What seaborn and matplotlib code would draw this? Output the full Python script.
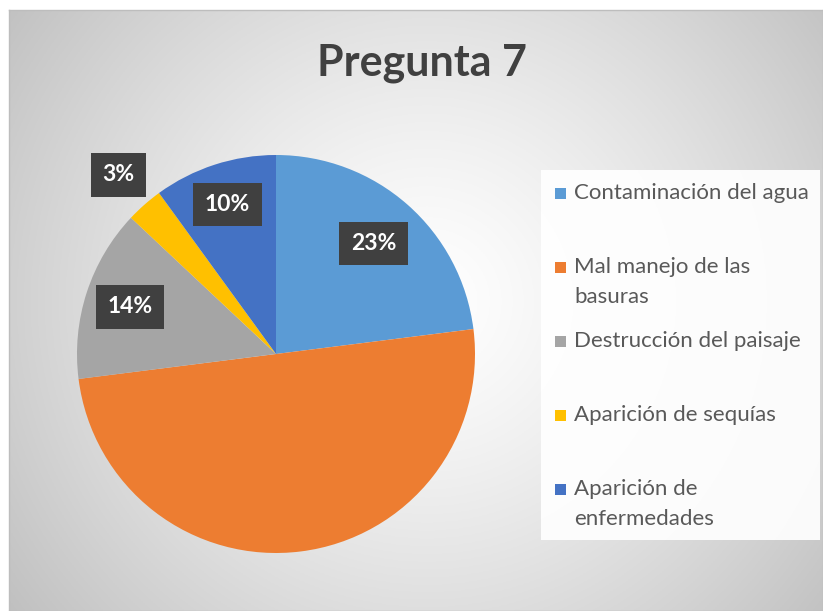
import numpy as np
import matplotlib
matplotlib.use("Agg")
import matplotlib.pyplot as plt
import seaborn as sns
from matplotlib.patches import Rectangle

# data
categories = ["Contaminación del agua", "Mal manejo de las\nbasuras",
              "Destrucción del paisaje", "Aparición de sequías",
              "Aparición de\nenfermedades"]
values = [23, 50, 14, 3, 10]
shown_labels = ["23%", "", "14%", "3%", "10%"]
title = "Pregunta 7"

sns.set_theme(style="white")
plt.rcParams['font.family'] = ['Lato', 'DejaVu Sans']

colors = sns.color_palette(["#5B9BD5", "#ED7D31", "#A5A5A5", "#FFC000", "#4472C4"])

W, H = 823, 611
fig = plt.figure(figsize=(W / 100, H / 100), dpi=100)
fig.patch.set_facecolor("white")

# chart area background: radial gradient
bg = fig.add_axes([9 / W, 0, 1 - 9 / W, (H - 10) / H])
yy, xx = np.mgrid[0:300, 0:400]
cx, cy = 205, 145
d = np.sqrt((xx - cx) ** 2 + (yy - cy) ** 2) / np.sqrt(cx ** 2 + cy ** 2)
shade = 1.0 - 0.24 * np.clip(d, 0, 1.2) ** 1.3
bg.imshow(np.dstack([shade] * 3), aspect="auto", extent=[0, 1, 0, 1])
bg.set_xlim(0, 1)
bg.set_ylim(0, 1)
bg.set_xticks([])
bg.set_yticks([])
for s in bg.spines.values():
    s.set_color("#bdbdbd")
    s.set_linewidth(1.0)

fig.text(422 / W, 1 - 63 / H, title, ha="center", va="center",
         fontsize=31, fontweight="bold", color="#404040")

# pie
pcx, pcy, r = 276, 354, 199
ax = fig.add_axes([(pcx - r) / W, (H - pcy - r) / H, 2 * r / W, 2 * r / H])
wedges, _ = ax.pie(values, colors=colors, startangle=90, counterclock=False,
                   wedgeprops=dict(linewidth=0))
ax.set_aspect("equal")
ax.set_xlim(-1, 1)
ax.set_ylim(-1, 1)
ax.axis("off")

dist = [0.74, 0.7, 0.77, 1.2, 0.79]
for w, lab, dd in zip(wedges, shown_labels, dist):
    if not lab:
        continue
    ang = np.deg2rad((w.theta1 + w.theta2) / 2)
    ax.text(dd * np.cos(ang), dd * np.sin(ang), lab, ha="center", va="center",
            fontsize=16.5, fontweight="bold", color="white", clip_on=False,
            bbox=dict(boxstyle="square,pad=0.5", facecolor="#404040",
                      edgecolor="none"))

# legend
lg = fig.add_axes([541 / W, (H - 540) / H, 279 / W, 370 / H])
lg.set_xlim(0, 279)
lg.set_ylim(370, 0)
lg.set_facecolor((1, 1, 1, 0.92))
lg.set_xticks([])
lg.set_yticks([])
for s in lg.spines.values():
    s.set_visible(False)
for i, (cat, c) in enumerate(zip(categories, colors)):
    y = 23 + i * 74
    lg.add_patch(Rectangle((14, y - 5), 11, 11, facecolor=c, edgecolor="none"))
    lg.text(33, y - 10, cat, ha="left", va="top", fontsize=16,
            color="#595959", linespacing=1.6)

fig.savefig("out.png", dpi=100)
